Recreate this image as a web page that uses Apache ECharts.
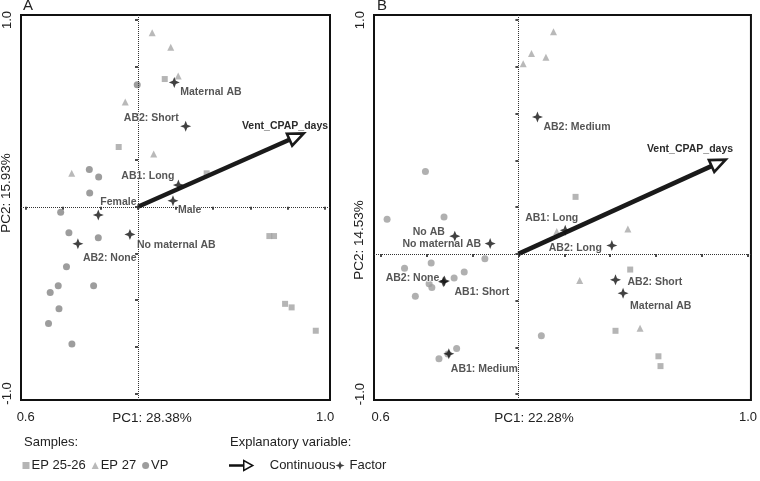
<!DOCTYPE html>
<html><head><meta charset="utf-8">
<script src="https://cdn.jsdelivr.net/npm/echarts@6/dist/echarts.min.js"></script>
<style>html,body{margin:0;padding:0;background:#fff}#c{width:760px;height:481px}</style>
</head><body><div id="c"></div>
<script>
// ---------- Panel A data ----------
const epA2526 = [[0.143,0.684],[-0.103,0.320],[0.367,0.179],[0.702,-0.157],[0.727,-0.157],[0.786,-0.520],[0.821,-0.539],[0.950,-0.664]];
const epA27 = [[0.076,0.932],[0.175,0.854],[0.215,0.700],[-0.068,0.561],[0.084,0.282],[-0.354,0.180]];
const vpA = [[-0.004,0.653],[-0.260,0.200],[-0.210,0.159],[-0.258,0.073],[-0.413,-0.030],[-0.369,-0.139],[-0.212,-0.166],[-0.382,-0.321],[-0.426,-0.423],[-0.469,-0.459],[-0.237,-0.423],[-0.422,-0.546],[-0.478,-0.625],[-0.353,-0.735]];
const factorNamesA = ['Maternal AB','AB2: Short','AB1: Long','Male','Female','No maternal AB','AB2: None'];
const factorValuesA = [[0.194,0.666],[0.255,0.431],[0.216,0.116],[0.187,0.032],[-0.212,-0.044],[-0.043,-0.148],[-0.321,-0.198]];
const continuousNameA = 'Vent_CPAP_days';
const continuousA = [0.893,0.396];

// ---------- Panel B data ----------
const epB2526 = [[0.249,0.244],[0.487,-0.067],[0.423,-0.329],[0.610,-0.438],[0.619,-0.480]];
const epB27 = [[0.153,0.950],[0.057,0.857],[0.120,0.841],[0.021,0.813],[0.167,0.096],[0.477,0.106],[0.267,-0.114],[0.530,-0.318]];
const vpB = [[-0.405,0.352],[-0.572,0.148],[-0.324,0.158],[-0.146,-0.021],[-0.496,-0.061],[-0.380,-0.039],[-0.236,-0.077],[-0.280,-0.103],[-0.389,-0.128],[-0.377,-0.144],[-0.449,-0.181],[0.100,-0.350],[-0.269,-0.405],[-0.346,-0.449],[-0.307,-0.428]];
const factorNamesB = ['AB2: Medium','AB1: Long','No AB','No maternal AB','AB2: Long','AB2: None','AB1: Short','AB2: Short','Maternal AB','AB1: Medium'];
const factorValuesB = [[0.083,0.586],[0.204,0.101],[-0.277,0.076],[-0.123,0.044],[0.407,0.036],[-0.327,-0.119],[-0.322,-0.116],[0.423,-0.111],[0.456,-0.168],[-0.303,-0.427]];
const continuousNameB = 'Vent_CPAP_days';
const continuousB = [0.909,0.406];

// ---------- axes / ticks ----------
const xTicks = [-0.6,-0.4,-0.2,0,0.2,0.4,0.6,0.8,1.0];
const yTicksA = [-1.0,-0.75,-0.5,-0.25,0,0.25,0.5,0.75,1.0];
const yTicksB = [-0.6,-0.4,-0.2,0,0.2,0.4,0.6,0.8,1.0];
const xLabelValues = [-0.6, 1.0];
const xTickLabels = ['0.6','1.0'];
const yLabelValuesA = [-1.0, 1.0];
const yTickLabelsA = ['-1.0','1.0'];
const yLabelValuesB = [-0.6, 1.0];
const yTickLabelsB = ['-1.0','1.0'];
const xTitleA = 'PC1: 28.38%', yTitleA = 'PC2: 15.93%';
const xTitleB = 'PC1: 22.28%', yTitleB = 'PC2: 14.53%';
const panelLetters = ['A','B'];
const sampleNames = ['EP 25-26','EP 27','VP'];

// ---------- label placement (style) ----------
const labelPlaceA = {
  'Maternal AB':['left',6,10],'AB2: Short':['right',-7,-8],'AB1: Long':['right',-4,-9],
  'Male':['left',5,9],'Female':['left',2,-13],'No maternal AB':['left',7,11],'AB2: None':['left',5,14]
};
const labelPlaceB = {
  'AB2: Medium':['left',6,10],'AB1: Long':['right',13,-12],'No AB':['right',-10,-4],
  'No maternal AB':['right',-9,0],'AB2: Long':['right',-10,3],'AB2: None':['right',-4,-4],
  'AB1: Short':['left',10,11],'AB2: Short':['left',12,2],'Maternal AB':['left',7,13],'AB1: Medium':['left',2,15]
};

const FONT = '"Liberation Sans", Arial, Helvetica, sans-serif';
const STAR = 'path://M0,-10 L2.8,-2.8 L10,0 L2.8,2.8 L0,10 L-2.8,2.8 L-10,0 L-2.8,-2.8 Z';
const ARROW_ICON = 'path://M0,4.4 L14,4.4 L14,0 L23,5 L14,10 L14,5.6 L0,5.6 Z';

function nearestLabel(v, vals, labels){
  let bi=0, bd=1e9;
  vals.forEach((x,i)=>{const d=Math.abs(x-v); if(d<bd){bd=d;bi=i;}});
  return labels[bi];
}

function makeX(gi, min, max){
  return {type:'value', gridIndex:gi, min:min, max:max,
    axisLine:{show:false}, splitLine:{show:false},
    axisTick:{show:true, inside:false, length:3, customValues:xTicks, lineStyle:{color:'#111', width:1.5}},
    axisLabel:{customValues:xLabelValues, formatter:v=>nearestLabel(v,xLabelValues,xTickLabels),
      fontSize:13, color:'#222', fontFamily:FONT, margin:11}};
}
function makeY(gi, min, max, ticks, lv, ll){
  return {type:'value', gridIndex:gi, min:min, max:max,
    axisLine:{show:false}, splitLine:{show:false},
    axisTick:{show:true, inside:false, length:3, customValues:ticks, lineStyle:{color:'#111', width:1.5}},
    axisLabel:{customValues:lv, formatter:v=>nearestLabel(v,lv,ll), rotate:90,
      fontSize:13, color:'#222', fontFamily:FONT, margin:7}};
}

function sampleSeries(name, gi, data, symbol, size, color, withLines){
  const s = {type:'scatter', name:name, xAxisIndex:gi, yAxisIndex:gi, data:data,
    symbol:symbol, symbolSize:size, itemStyle:{color:color}, z:2, silent:true};
  if(withLines){
    s.markLine = {silent:true, symbol:'none', label:{show:false},
      lineStyle:{type:'dotted', color:'#333', width:1}, animation:false,
      data:[{xAxis:0},{yAxis:0}]};
  }
  return s;
}

function factorSeries(gi, names, values, place){
  return {type:'scatter', name:'Factor', xAxisIndex:gi, yAxisIndex:gi, z:5,
    symbol:STAR, symbolSize:11, symbolKeepAspect:true,
    itemStyle:{color:'#111'},
    data:names.map((n,i)=>{
      const p = place[n];
      return {name:n, value:values[i],
        label:{show:true, position:'inside', formatter:n, align:p[0], verticalAlign:'middle', offset:[p[1],p[2]]}};
    }),
    label:{fontFamily:FONT, fontWeight:'bold', fontSize:10.5, color:'#2b2b2b', textBorderColor:'#fff', textBorderWidth:1.5}
  };
}

function arrowSeries(gi, tip, labelName, lab){
  return {type:'custom', name:'Continuous', xAxisIndex:gi, yAxisIndex:gi, z:4,
    data:[[0,0,tip[0],tip[1]]],
    itemStyle:{color:'#111'},
    renderItem:function(params, api){
      const p0 = api.coord([api.value(0), api.value(1)]);
      const p1 = api.coord([api.value(2), api.value(3)]);
      const dx=p1[0]-p0[0], dy=p1[1]-p0[1], len=Math.hypot(dx,dy);
      const ux=dx/len, uy=dy/len, nx=-uy, ny=ux;
      const hl=17, hw=6.5;
      const bx=p1[0]-ux*hl, by=p1[1]-uy*hl;
      return {type:'group', children:[
        {type:'line', shape:{x1:p0[0],y1:p0[1],x2:bx+ux*1,y2:by+uy*1}, style:{stroke:'#1a1a1a', lineWidth:4.5}},
        {type:'polygon', shape:{points:[[p1[0]-ux*1.5,p1[1]-uy*1.5],[bx+nx*hw,by+ny*hw],[bx-nx*hw,by-ny*hw]]},
          style:{fill:'#fff', stroke:'#1a1a1a', lineWidth:2.6, lineJoin:'miter'}},
        {type:'text', x:p1[0]+lab[0], y:p1[1]+lab[1],
          style:{text:labelName, fill:'#2b2b2b', font:'bold 10.5px '+FONT, align:'right', verticalAlign:'middle',
            stroke:'#fff', lineWidth:1.5}}
      ]};
    }
  };
}

const chart = echarts.init(document.getElementById('c'), null, {renderer:'canvas'});
const titleStyle = {fill:'#222', font:'13.5px '+FONT};
const option = {
  animation:false,
  backgroundColor:'#fff',
  grid:[
    {left:21, top:15, width:309, height:385, show:true, borderColor:'#111', borderWidth:2},
    {left:374, top:15, width:383, height:385, show:true, borderColor:'#111', borderWidth:2}
  ],
  xAxis:[makeX(0,-0.625,1.026), makeX(1,-0.629,1.013)],
  yAxis:[makeY(0,-1.035,1.027,yTicksA,yLabelValuesA,yTickLabelsA), makeY(1,-0.625,1.022,yTicksB,yLabelValuesB,yTickLabelsB)],
  legend:[
    {left:17.5, top:454, itemWidth:7, itemHeight:7, itemGap:6, selectedMode:false,
      textStyle:{fontSize:13, color:'#222', fontFamily:FONT, padding:[0,0,0,-3]},
      data:[{name:sampleNames[0], icon:'rect'},{name:sampleNames[1], icon:'triangle'},{name:sampleNames[2], icon:'circle'}]},
    {left:224, top:454, itemWidth:23, itemHeight:10, selectedMode:false,
      textStyle:{fontSize:13, color:'#222', fontFamily:FONT, padding:[0,0,0,12]},
      data:[{name:'Continuous', icon:ARROW_ICON, itemStyle:{color:'#fff', borderColor:'#111', borderWidth:1.5}}]},
    {left:330.5, top:454, itemWidth:9, itemHeight:9, selectedMode:false,
      textStyle:{fontSize:13, color:'#222', fontFamily:FONT},
      data:[{name:'Factor', icon:STAR, itemStyle:{color:'#111', borderWidth:0}}]}
  ],
  graphic:[
    {type:'text', left:23, top:-2, style:{text:panelLetters[0], fill:'#222', font:'15px '+FONT}},
    {type:'text', left:377, top:-2, style:{text:panelLetters[1], fill:'#222', font:'15px '+FONT}},
    {type:'text', x:152, y:418, style:{text:xTitleA, align:'center', verticalAlign:'middle', ...titleStyle}},
    {type:'text', x:534, y:418, style:{text:xTitleB, align:'center', verticalAlign:'middle', ...titleStyle}},
    {type:'text', x:6, y:193, rotation:Math.PI/2, style:{text:yTitleA, align:'center', verticalAlign:'middle', ...titleStyle}},
    {type:'text', x:359, y:240, rotation:Math.PI/2, style:{text:yTitleB, align:'center', verticalAlign:'middle', ...titleStyle}},
    {type:'text', x:24, y:442, style:{text:'Samples:', align:'left', verticalAlign:'middle', fill:'#222', font:'13px '+FONT}},
    {type:'text', x:230, y:442, style:{text:'Explanatory variable:', align:'left', verticalAlign:'middle', fill:'#222', font:'13px '+FONT}}
  ],
  series:[
    sampleSeries(sampleNames[0],0,epA2526,'rect',6,'#a3a3a3',false),
    sampleSeries(sampleNames[1],0,epA27,'triangle',7,'#a8a8a8',false),
    sampleSeries(sampleNames[2],0,vpA,'circle',7,'#858585',true),
    arrowSeries(0, continuousA, continuousNameA, [23,-7]),
    factorSeries(0, factorNamesA, factorValuesA, labelPlaceA),
    sampleSeries(sampleNames[0],1,epB2526,'rect',6,'#a3a3a3',false),
    sampleSeries(sampleNames[1],1,epB27,'triangle',7,'#a8a8a8',false),
    sampleSeries(sampleNames[2],1,vpB,'circle',7,'#9c9c9c',true),
    arrowSeries(1, continuousB, continuousNameB, [6,-10]),
    factorSeries(1, factorNamesB, factorValuesB, labelPlaceB)
  ]
};
chart.setOption(option);
</script></body></html>
